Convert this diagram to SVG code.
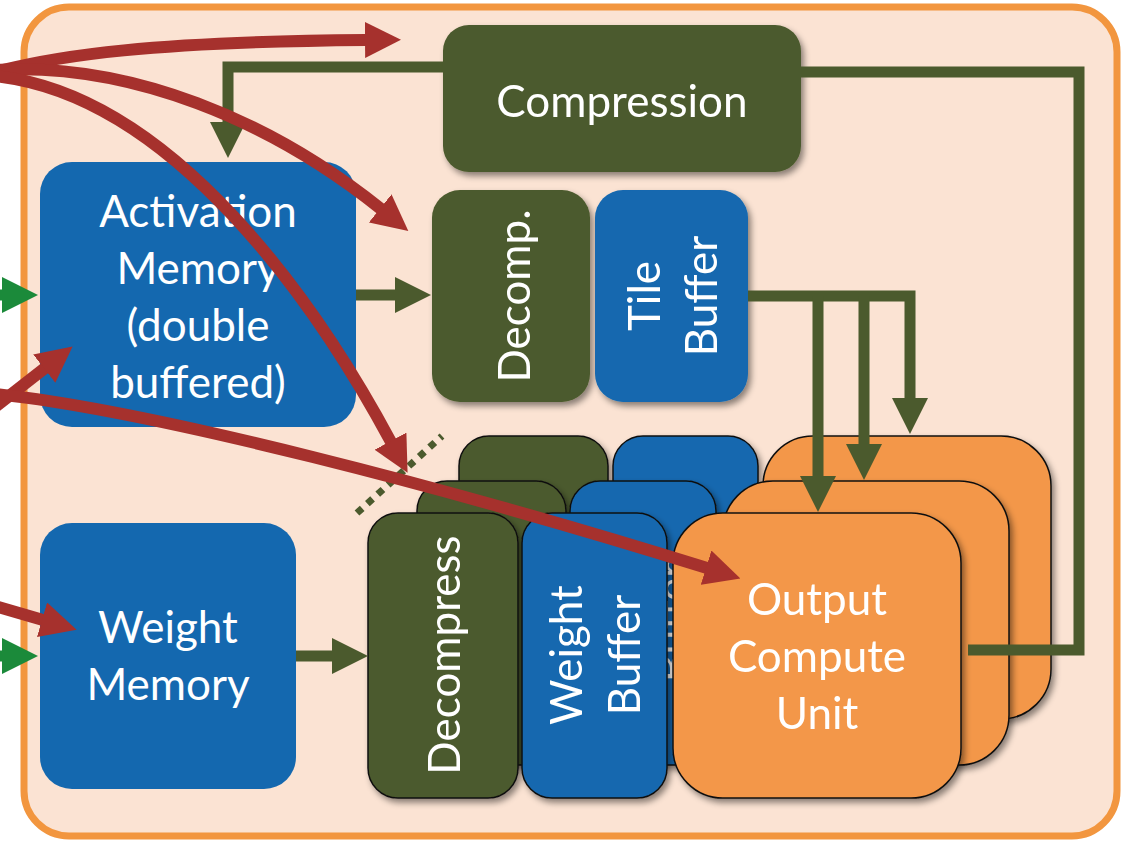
<svg xmlns="http://www.w3.org/2000/svg" width="1128" height="841" viewBox="0 0 1128 841">
  <defs>
    <style>
      .lbl { font-family: Lato, "Open Sans", "Liberation Sans", sans-serif; font-size: 44px; fill: #FFFFFF; text-anchor: middle; }
      .blue { fill: #1468AF; }
      .olive { fill: #4B5A2D; }
      .orange { fill: #F39748; }
      .edge { stroke: #111111; stroke-width: 1.5; }
      .red { fill: none; stroke: #A6312D; stroke-width: 12; }
      .wire { fill: none; stroke: #4B5A2D; stroke-width: 11; }
      .feed { fill: none; stroke: #1B8A3A; stroke-width: 11; }
    </style>
    <filter id="shadow" x="-15%" y="-15%" width="135%" height="135%">
      <feDropShadow dx="3" dy="4" stdDeviation="3" flood-color="#000000" flood-opacity="0.45"/>
    </filter>
    <marker id="ah-red" viewBox="0 0 36 36" refX="1" refY="18" markerWidth="36" markerHeight="36" markerUnits="userSpaceOnUse" orient="auto">
      <path d="M0,0 L36,18 L0,36 z" fill="#A6312D"/>
    </marker>
    <marker id="ah-olive" viewBox="0 0 36 36" refX="1" refY="18" markerWidth="36" markerHeight="36" markerUnits="userSpaceOnUse" orient="auto">
      <path d="M0,0 L36,18 L0,36 z" fill="#4B5A2D"/>
    </marker>
    <marker id="ah-green" viewBox="0 0 36 36" refX="1" refY="18" markerWidth="36" markerHeight="36" markerUnits="userSpaceOnUse" orient="auto">
      <path d="M0,0 L36,18 L0,36 z" fill="#1B8A3A"/>
    </marker>
  </defs>

  <!-- accelerator boundary -->
  <rect x="24" y="7" width="1093" height="829" rx="45" fill="#FBE3D3" stroke="#F2963F" stroke-width="7"/>

  <!-- memories and activation path -->
  <g id="activation-memory">
    <rect class="blue" x="40" y="162" width="316" height="265" rx="32"/>
    <text class="lbl" x="198" y="227">Activation</text>
    <text class="lbl" x="198" y="284">Memory</text>
    <text class="lbl" x="198" y="341">(double</text>
    <text class="lbl" x="198" y="398">buffered)</text>
  </g>
  <g id="weight-memory">
    <rect class="blue" x="40" y="523" width="256" height="266" rx="32"/>
    <text class="lbl" x="168" y="643">Weight</text>
    <text class="lbl" x="168" y="700">Memory</text>
  </g>
  <g id="compression" filter="url(#shadow)">
    <rect class="olive" x="443" y="25" width="358" height="147" rx="26"/>
    <text class="lbl" x="622" y="117">Compression</text>
  </g>
  <g id="decomp" filter="url(#shadow)">
    <rect class="olive" x="432" y="190" width="158" height="212" rx="28"/>
    <text class="lbl" transform="translate(530,296) rotate(-90)">Decomp.</text>
  </g>
  <g id="tile-buffer" filter="url(#shadow)">
    <rect class="blue" x="595" y="190" width="153" height="212" rx="28"/>
    <text class="lbl" transform="translate(660,296) rotate(-90)">Tile</text>
    <text class="lbl" transform="translate(717,296) rotate(-90)">Buffer</text>
  </g>

  <!-- replicated compute lanes, back to front -->
  <g id="lane-3" filter="url(#shadow)">
    <rect class="olive edge" x="459" y="436" width="149" height="283" rx="30"/>
    <text class="lbl" transform="translate(550,600) rotate(-90)">Decompress</text>
    <rect class="blue edge" x="613" y="436" width="145" height="283" rx="30"/>
    <rect class="orange edge" x="763" y="436" width="288" height="283" rx="50"/>
  </g>
  <g id="lane-2" filter="url(#shadow)">
    <rect class="olive edge" x="417" y="481" width="149" height="284" rx="30"/>
    <rect class="blue edge" x="570" y="481" width="146" height="284" rx="30"/>
    <text class="lbl" transform="translate(630,622) rotate(-90)">Weight</text>
    <text class="lbl" transform="translate(688,622) rotate(-90)">Buffer</text>
    <rect class="orange edge" x="723" y="481" width="286" height="284" rx="50"/>
  </g>
  <g id="lane-1" filter="url(#shadow)">
    <g id="decompress">
      <rect class="olive edge" x="368" y="513" width="150" height="285" rx="30"/>
      <text class="lbl" transform="translate(460,655) rotate(-90)">Decompress</text>
    </g>
    <g id="weight-buffer">
      <rect class="blue edge" x="522" y="513" width="145" height="285" rx="30"/>
      <text class="lbl" transform="translate(582,655) rotate(-90)">Weight</text>
      <text class="lbl" transform="translate(640,655) rotate(-90)">Buffer</text>
    </g>
    <g id="output-compute-unit">
      <rect class="orange edge" x="673" y="513" width="288" height="285" rx="50"/>
      <text class="lbl" x="817" y="615">Output</text>
      <text class="lbl" x="817" y="672">Compute</text>
      <text class="lbl" x="817" y="729">Unit</text>
    </g>
  </g>

  <g id="connectors">
    <!-- on-chip data path -->
    <path class="wire" d="M356,295 L396,295" marker-end="url(#ah-olive)"/>
    <path class="wire" d="M296,656 L333,656" marker-end="url(#ah-olive)"/>
    <path class="wire" d="M443,67 L228,67 L228,123" marker-end="url(#ah-olive)"/>
    <path class="wire" d="M801,72 L1079,72 L1079,650 L968,650"/>
    <path class="wire" d="M748,296 L910,296 L910,399" marker-end="url(#ah-olive)"/>
    <path class="wire" d="M864,296 L864,445" marker-end="url(#ah-olive)"/>
    <path class="wire" d="M818,296 L818,477" marker-end="url(#ah-olive)"/>
    <path d="M357,513 L442,436" fill="none" stroke="#4B5A2D" stroke-width="7" stroke-dasharray="7 7"/>

    <!-- external inputs -->
    <path class="feed" d="M-5,295 L3,295" marker-end="url(#ah-green)"/>
    <path class="feed" d="M-5,656 L3,656" marker-end="url(#ah-green)"/>

    <!-- control signals -->
    <path class="red" d="M-5,72 C60,55 150,42 366,40" marker-end="url(#ah-red)"/>
    <path class="red" d="M-5,70 C130,62 270,120 381,209" marker-end="url(#ah-red)"/>
    <path class="red" d="M-5,76 C175,95 320,310 391,442" marker-end="url(#ah-red)"/>
    <path class="red" d="M-5,407 L45,368" marker-end="url(#ah-red)"/>
    <path class="red" d="M-5,394 C150,410 450,488 707,568" marker-end="url(#ah-red)"/>
    <path class="red" d="M-5,606 L43,620" marker-end="url(#ah-red)"/>
  </g>
</svg>
